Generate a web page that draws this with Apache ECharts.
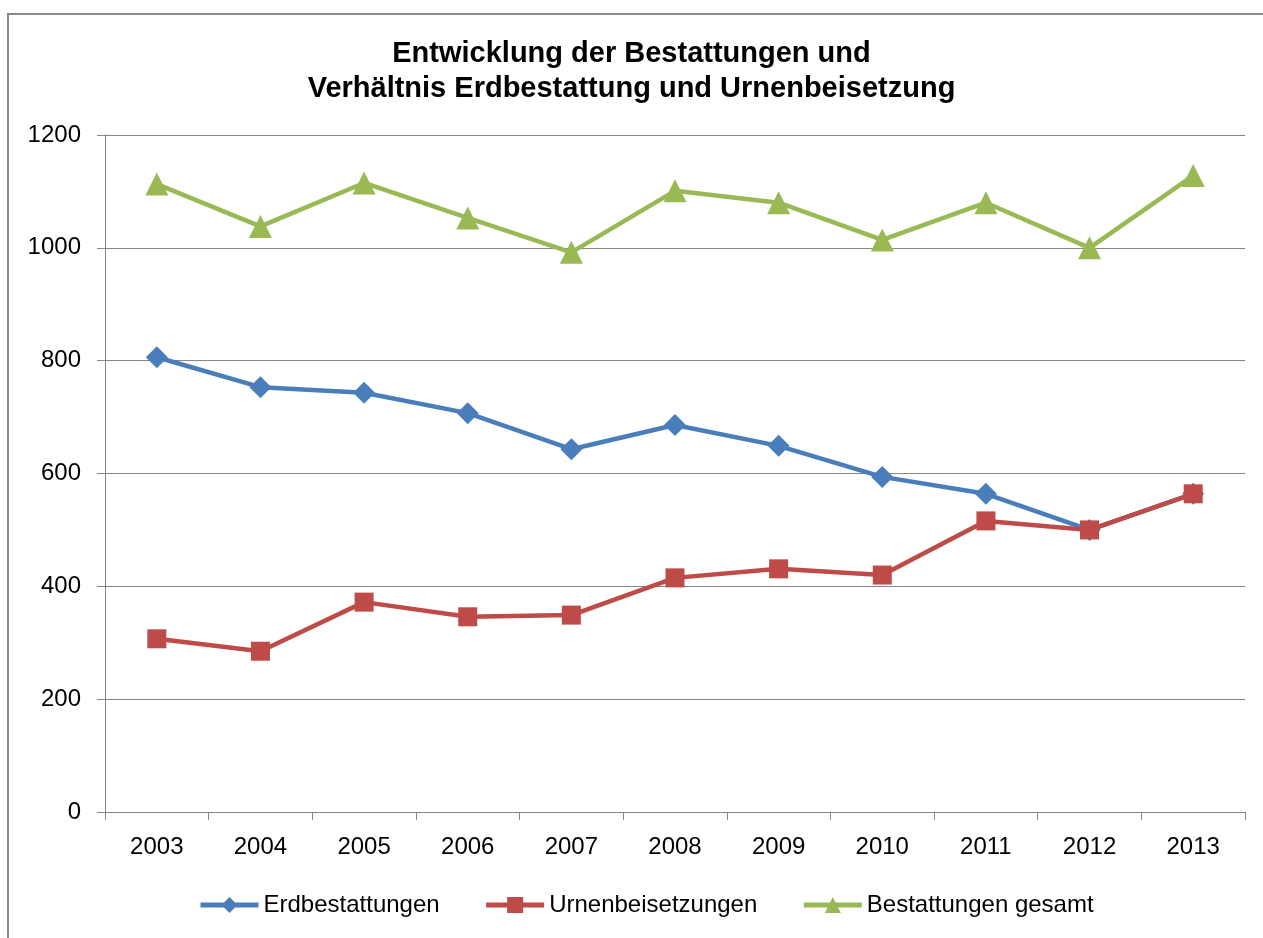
<!DOCTYPE html>
<html>
<head>
<meta charset="utf-8">
<script src="https://cdn.jsdelivr.net/npm/echarts@6/dist/echarts.min.js"></script>
<style>
  html, body { margin: 0; padding: 0; background: #fff; }
  #chart { width: 1263px; height: 938px; }
</style>
</head>
<body>
<div id="chart"></div>
<script>
// Daten
let jahre = ['2003', '2004', '2005', '2006', '2007', '2008', '2009', '2010', '2011', '2012', '2013'];
let erdbestattungen = [806, 753, 743, 707, 643, 686, 649, 594, 564, 500, 564];
let urnenbeisetzungen = [307, 285, 372, 346, 349, 415, 431, 420, 516, 500, 564];
let gesamt = [1113, 1038, 1115, 1053, 992, 1101, 1080, 1014, 1080, 1000, 1128];
let yTicks = [0, 200, 400, 600, 800, 1000, 1200];

let myChart = echarts.init(document.getElementById('chart'));
let labelFont = 'Liberation Sans, Arial, sans-serif';

let option = {
    backgroundColor: '#fff',
    animation: false,
    title: {
        left: 'center',
        top: 31,
        text: 'Entwicklung der Bestattungen und\nVerhältnis Erdbestattung und Urnenbeisetzung',
        textStyle: {
            fontFamily: 'Liberation Sans, Arial, sans-serif',
            fontWeight: 'bold',
            fontSize: 29,
            lineHeight: 35,
            color: '#000'
        }
    },
    graphic: [{
        type: 'rect',
        shape: { x: 8, y: 14, width: 1300, height: 1000 },
        style: { fill: 'none', stroke: '#8a8a8a', lineWidth: 2 },
        silent: true
    }],
    grid: {
        left: 105,
        right: 18,
        top: 135,
        bottom: 126
    },
    legend: {
        left: 193,
        top: 888,
        itemWidth: 58,
        itemHeight: 20,
        itemGap: 44,
        lineStyle: { width: 5 },
        textStyle: { fontFamily: labelFont, fontSize: 24, color: '#000' },
        data: ['Erdbestattungen', 'Urnenbeisetzungen', 'Bestattungen gesamt']
    },
    xAxis: {
        type: 'category',
        data: jahre,
        boundaryGap: true,
        axisLine: { lineStyle: { color: '#868686', width: 1 } },
        axisTick: { show: true, length: 8, lineStyle: { color: '#868686' } },
        axisLabel: { fontFamily: labelFont, fontSize: 24, color: '#000', margin: 23 }
    },
    yAxis: {
        type: 'value',
        min: yTicks[0],
        max: yTicks[yTicks.length - 1],
        interval: 200,
        axisLine: { show: true, lineStyle: { color: '#868686', width: 1 } },
        axisTick: { show: true, length: 8, lineStyle: { color: '#868686' } },
        splitLine: { lineStyle: { color: '#868686', width: 1 } },
        axisLabel: {
            fontFamily: labelFont, fontSize: 24, color: '#000', margin: 24,
            formatter: function (v) { return String(v); }
        }
    },
    series: [
        {
            name: 'Erdbestattungen',
            type: 'line',
            data: erdbestattungen,
            color: '#4A7EBB',
            symbol: 'diamond',
            symbolSize: 22,
            lineStyle: { width: 4.5 },
            z: 3
        },
        {
            name: 'Urnenbeisetzungen',
            type: 'line',
            data: urnenbeisetzungen,
            color: '#BE4B48',
            symbol: 'rect',
            symbolSize: 19,
            lineStyle: { width: 4.5 },
            z: 4
        },
        {
            name: 'Bestattungen gesamt',
            type: 'line',
            data: gesamt,
            color: '#98B954',
            symbol: 'triangle',
            symbolSize: 23,
            lineStyle: { width: 4.5 },
            z: 2
        }
    ]
};

myChart.setOption(option);
window.onresize = function () {
    myChart.resize();
};
</script>
</body>
</html>
